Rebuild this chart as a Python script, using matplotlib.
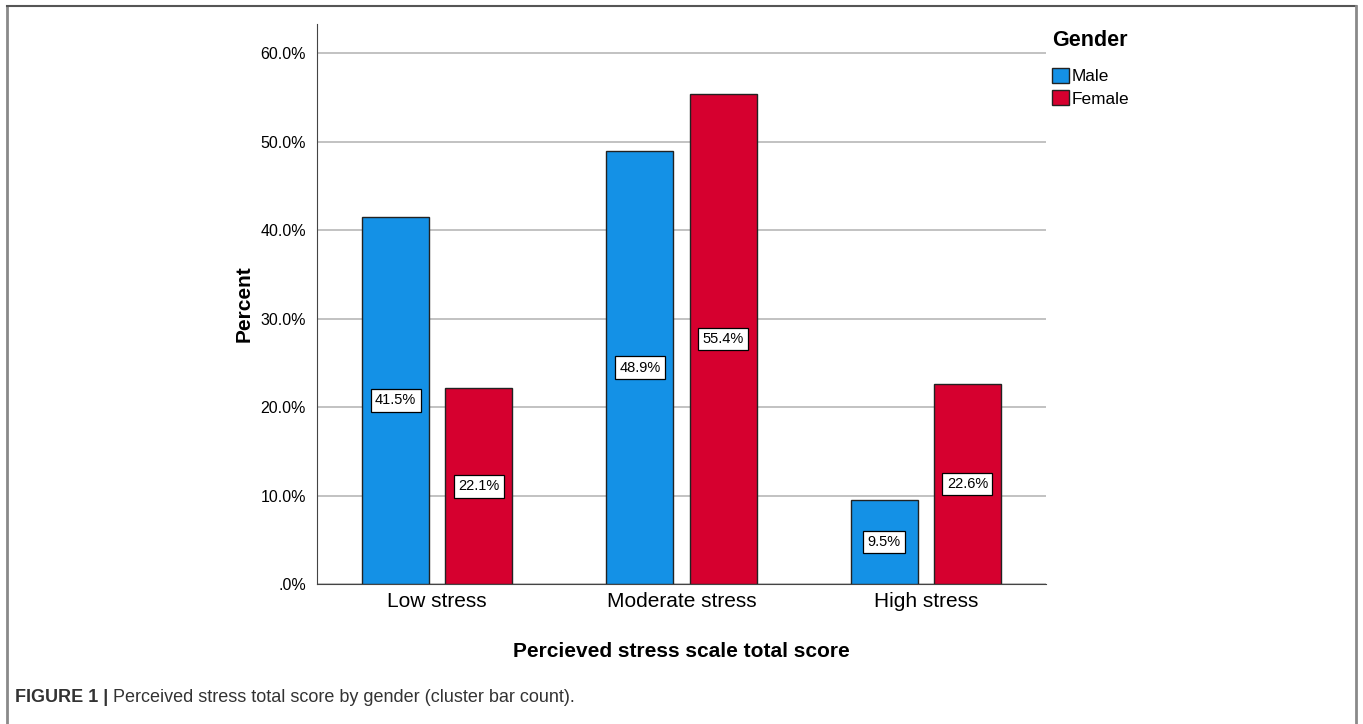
import matplotlib.pyplot as plt
import numpy as np
from matplotlib.patches import Patch
from matplotlib.lines import Line2D

plt.rcParams['font.family'] = ['Liberation Sans', 'DejaVu Sans']

kategorier = ["Low stress", "Moderate stress", "High stress"]
male = [41.5, 48.9, 9.5]
female = [22.1, 55.4, 22.6]
yticks = [0, 10, 20, 30, 40, 50, 60]
ytick_labels = [".0%", "10.0%", "20.0%", "30.0%", "40.0%", "50.0%", "60.0%"]

farge_male = "#1491e6"
farge_female = "#d6002f"

fig = plt.figure(figsize=(13.63, 7.24), dpi=100)
ax = fig.add_axes([0.2326, 0.1934, 0.5348, 0.7735])

x = np.arange(len(kategorier))
bredde = 0.274
off = 0.17

for verdier, farge, d in [(male, farge_male, -off), (female, farge_female, off)]:
    ax.bar(x + d, verdier, width=bredde, color=farge, edgecolor="#222222", linewidth=1.0, zorder=3)
    for xi, v in zip(x + d, verdier):
        ax.text(xi, v / 2, f"{v:.1f}%", ha="center", va="center", fontsize=10.5, zorder=4,
                bbox=dict(boxstyle="square,pad=0.3", facecolor="white", edgecolor="black", linewidth=0.9))

ax.set_xlim(-0.491, 2.491)
ax.set_ylim(0, 63.3)
ax.set_yticks(yticks)
ax.set_yticklabels(ytick_labels, fontsize=11.5)
ax.set_xticks(x)
ax.set_xticklabels(kategorier, fontsize=15)
ax.tick_params(axis="y", length=0, pad=8)
ax.tick_params(axis="x", length=0, pad=6)
ax.grid(axis="y", color="#b8b8b8", linewidth=1.2, zorder=0)
ax.spines["top"].set_visible(False)
ax.spines["right"].set_visible(False)
ax.spines["left"].set_color("#444444")
ax.spines["bottom"].set_color("#444444")

ax.set_ylabel("Percent", fontsize=15, fontweight="bold", labelpad=5)
ax.set_xlabel("Percieved stress scale total score", fontsize=15, fontweight="bold", labelpad=22)

handles = [Patch(facecolor=farge_male, edgecolor="#222222", label="Male"),
           Patch(facecolor=farge_female, edgecolor="#222222", label="Female")]
leg = fig.legend(handles=handles, loc="upper left", bbox_to_anchor=(0.772, 0.958), frameon=False,
                 title="Gender", fontsize=12.4, handlelength=0.95, handleheight=0.95,
                 handletextpad=0.15, labelspacing=0.35, borderaxespad=0, borderpad=0)
leg.get_title().set_fontweight("bold")
leg.get_title().set_fontsize(15.5)
leg._legend_box.align = "left"
leg._legend_box.sep = 12

# ramme rundt figuren
kant = "#8a8a8a"
fig.add_artist(Line2D([7 / 1363, 7 / 1363], [0, 1 - 6 / 724], color=kant, linewidth=2, transform=fig.transFigure))
fig.add_artist(Line2D([7 / 1363, 1356 / 1363], [1 - 6 / 724, 1 - 6 / 724], color="#555555", linewidth=1.5, transform=fig.transFigure))
fig.add_artist(Line2D([1356 / 1363, 1356 / 1363], [0, 1 - 6 / 724], color=kant, linewidth=2, transform=fig.transFigure))

fig_tekst = fig.text(15 / 1363, 1 - 697 / 724, "FIGURE 1 |", fontsize=13, fontweight="bold", color="#333333",
                     va="center", family=["Liberation Sans Narrow", "Liberation Sans", "DejaVu Sans"])
fig.text(0, 0, " Perceived stress total score by gender (cluster bar count).", fontsize=13, color="#333333",
         va="center", family=["Liberation Sans Narrow", "Liberation Sans", "DejaVu Sans"])
caption = fig.texts[-1]
caption.set_transform(fig.transFigure)
fig.canvas.draw()
bb = fig_tekst.get_window_extent().transformed(fig.transFigure.inverted())
caption.set_position((bb.x1, 1 - 697 / 724))

fig.savefig("out.png", dpi=100)
